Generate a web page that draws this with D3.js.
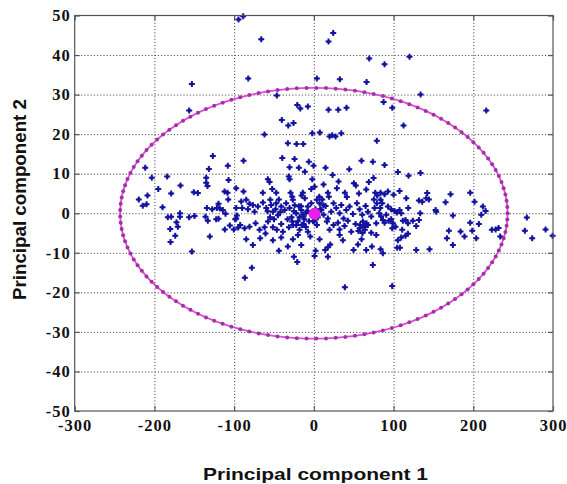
<!DOCTYPE html>
<html><head><meta charset="utf-8">
<script src="https://cdn.jsdelivr.net/npm/d3@7/dist/d3.min.js"></script>
<style>body{margin:0;background:#fff}svg{display:block}</style>
</head><body><svg id="c" width="567" height="484"></svg>
<script>
const xTicks=[-300,-200,-100,0,100,200,300];
const yTicks=[-50,-40,-30,-20,-10,0,10,20,30,40,50];
const xLabel="Principal component 1";
const yLabel="Principal component 2";
// principal component scores [PC1, PC2]
const scoresSparse=[[-94.5,49],[-88.6,49.8],[-66,44],[-82.3,34.1],[-46.4,29.8],[-20.8,27.4],[-17,26.5],[-7.5,27],[3.8,34.1],[18.4,43.4],[24.3,45.6],[32.6,33.9],[18.4,26.2],[30.6,26.2],[41,26.7],[69.5,39.1],[88.7,37.7],[66.1,33.2],[87.5,28.1],[98.4,26.7],[-40.2,23.6],[-32.1,22.2],[-25.5,22.8],[-61.9,19.9],[-2,20.2],[7.5,20.4],[19.7,19.4],[23,19.7],[27.2,19.4],[34.4,20.2],[-32.6,17.7],[-21.7,17.5],[-13.3,17.5],[79,18.3],[-153,32.7],[-156.4,26],[120,39.6],[133.9,30],[112.5,22.2],[216.3,26],[-25,-11],[-20.8,-12.3],[17.6,-11],[74,-13.1],[-77.8,-13.8],[-86.6,-16.3],[38.9,-18.7]];
const scoresLeft=[[-211.5,11.5],[-203.3,9],[-184,9.3],[-167.3,7],[-195.2,6.1],[-179,5],[-219.6,3.5],[-208.7,4.5],[-214.6,1.9],[-209.9,2.3],[-189.8,1.5],[-183.2,-1],[-179,-0.9],[-168,0],[-168,-0.9],[-156.4,-1],[-149.7,-0.7],[-150.6,5.3],[-145.5,5.1],[-172.3,-2.3],[-170.6,-3.4],[-180.2,-4],[-173.9,-5.7],[-179.8,-7.3],[-153,-9.7],
[-126.7,14.5],[-107.9,12],[-131.7,11.2],[-135,9],[-135,7.7],[-133.4,6.9],[-107,8.4],[-112,5.5],[-108.3,5.2],[-97.4,6.3],[-107.4,3.5],[-119.6,2.4],[-117.9,1.2],[-114.2,0.8],[-110.8,-0.1],[-97.4,1.3],[-97.4,-1.3],[-96.6,-0.6],[-98.6,-1.5],[-134.2,1.3],[-127.5,1],[-121.7,1.3],[-135.9,-0.9],[-133,-1.9],[-122.5,-1.5],[-119.6,-1.4],[-111.7,-4.1],[-105.4,-3.1],[-100.4,-4.1],[-94.9,-3.6],[-130.5,-5.9]];
const scoresCenter=[[-88.2,13.3],[-39.6,14],[-24.2,13.7],[-6.3,13],[-0.4,12],[-18.8,11.5],[-30.5,11.6],[14.7,11.5],[23.5,9.7],[44.4,11.1],[59.8,13.3],[74,13],[-11.3,10.5],[-57.7,8.6],[-55.6,7.9],[-31.4,9.3],[-30.5,8.6],[-2,8.6],[0.9,6.7],[-3.3,6.1],[12.2,7.3],[31,8],[28.9,6.3],[52.7,7],[50.2,7.6],[69,7.9],[65.7,6],[74.9,8.9],[77,5.2],[79.5,4.5],[-88.2,5.5],[-64,5.2],[-52.2,6.1],[-47.2,5.2],[-29.2,5.2],[-27.1,4.2],[-15.4,4.5],[-13.8,5.2],[-11.3,3.8],[6.8,4.2],[10.5,3.5],[17.6,5.2],[18.8,4.2],[38.9,5.2],[41.4,4.1],[56.5,5],[75.3,3.5],
[-91.1,2.95],[-84.8,3.4],[-80.7,2.4],[-76.5,2.1],[-89.9,1.3],[-82.7,1],[-74.4,0.4],[-70.2,1.7],[-63.9,2.7],[-59.7,1.3],[-54.7,3.4],[-53.5,2.1],[-51.4,0.4],[-47.2,2.5],[-43.9,3.5],[-40.9,1.7],[-36.7,0.8],[-34.7,2.5],[-30.5,1.3],[-26.3,3.4],[-22.1,0],[-18.8,1.8],[-15.8,0.8],[-12.9,-0.85],[-9.6,0.2],[-7.5,1.7],[-3.3,2.5],[3.8,3.4],[7.2,2.5],[9.3,0.8],[12.2,-0.4],[14.7,1.85],[17.6,-1.3],[21.8,0.4],[24.7,2.5],[28.1,1.3],[32.3,0],[34.4,2.1],[37.3,-1.3],[40.6,0.8],[44.8,1.7],[49,-0.2],[54,2.5],[57.4,1],[60.7,-0.4],[64.9,1.85],[67.8,0.4],[72,-0.85],[76.2,1.3],[79.1,2.5],[82,0],
[-92.4,-3],[-86.9,-3.8],[-80.7,-3.4],[-73.1,-2.5],[-68.1,-4.2],[-61.8,-3.55],[-57.6,-2.1],[-51.4,-3.55],[-46.4,-4.2],[-40.9,-2.7],[-38.8,-4.65],[-31.3,-3.55],[-27.1,-2.1],[-22.1,-3],[-17.9,-4.2],[-12.9,-2.7],[-7.5,-4.65],[0.9,-1.9],[3.8,-3],[16.4,-2.1],[19.7,-4.2],[24.7,-3],[30.2,-2.4],[32.3,-4.1],[38.5,-3.2],[42.7,-1.9],[46.9,-4.65],[52.3,-2.7],[57.4,-3.8],[61.5,-2.1],[64,-4.2],[67.8,-3],[72,-4.9],[78.3,-2.5],
[-84.8,-6.6],[-67.3,-6.3],[-60.6,-5.1],[-51.4,-6.8],[-40.9,-6.1],[-32.6,-8.4],[-26.3,-6.6],[-20,-5.5],[-15.8,-8],[-4.5,-5.9],[7.2,-6.6],[14.3,-9.3],[17.6,-8.6],[20.6,-7.9],[32.3,-5.5],[36.4,-6.8],[49.8,-9.3],[55.3,-7.9],[59.9,-6.6],[65.7,-9.3],[72.8,-8.4],[78.3,-5.5],[-76.5,-8],[-43.9,-9.5],[2.2,-9.5],[0.9,-10.8],
[-28,-1],[-25,0.5],[-20,-2],[-18,-1],[-15,-3],[-12,-1.5],[-10,-3.5],[-6,-2],[-26,-3],[-33,-1.5],[-24,2],[-4,0],[-16,1.8],[-14,-0.3],[-8,0.6],[-55,-1],[-50,-1.5],[-45,-0.5],[-48,1],[-42,0.3],[-58,0.5],[58,-3],[61,-5],[63,-3.5],[56,-4.5],[66,-2.5],[5,-1],[8,1],[12,2],[2,1],[-1,-2]];
const scoresRight=[[88.7,12.2],[105.4,10.4],[118.8,9.5],[133.8,10.2],[83.7,5.2],[88.7,4.8],[92.9,5.5],[100,4.7],[107.5,5.6],[83.7,3.4],[85.7,2.5],[83.2,1.3],[92.9,1.7],[97,1],[101.2,0.6],[104.1,0.2],[107.5,0.8],[109.6,0],[115.9,3.8],[131.8,3.2],[135.9,2.9],[141,3.8],[142.2,5.1],[144.3,3.5],[118.4,1.3],[133.4,0],[153.5,0.4],[152.7,0.8],[165.2,2.8],[171.5,4.8],[174.4,-0.6],[196.1,5.2],[201.6,2.9],[215.4,0.6],[212,1.7],[210,-0.4],[196.1,-2.4],[198.7,-4.4],[207,-2.7],[203.7,-6.3],[169.4,-4.4],[166.9,-6.3],[174.4,-8],[184,-4.6],[189,-5.9],[223.3,-4.2],[228,-4.1],[231.7,-3.7],[233.8,-5.9],[267.2,-1.1],[264.7,-4.4],[273.9,-6.3],[290.7,-4.1],[299.5,-5.7],[84.5,-0.85],[90.8,-0.4],[86.6,-1.7],[94.1,-1.9],[88.7,-2.4],[97,-1.5],[98.3,-3.8],[102.5,-3.4],[99.1,-2.5],[111.7,-1.9],[115,-1.7],[118,-2.5],[124.2,-1.9],[131.8,-1.7],[128.4,-3.2],[110.8,-4.2],[115,-5.7],[118,-5.2],[105.4,-6.8],[109.6,-6.1],[104.5,-8.7],[108,-8.7],[83.7,-9.1],[86.6,-10.1],[128.4,-9.3],[145.1,-9.1],[98.3,-18.4]];
const ellipseCenter=[0,0];
const ellipseRadii=[243,31.7];
const ellipseMarkerCount=125;
const meanPoint=[0.8,-0.1];

const scores=[...scoresSparse,...scoresLeft,...scoresCenter,...scoresRight];
const L=74.7,R=553,T=15.5,B=411;
const svg=d3.select('#c');
const x=d3.scaleLinear().domain([-300,300]).range([L,R]);
const y=d3.scaleLinear().domain([-50,50]).range([B,T]);

// grid
const gx=svg.append('g').attr('transform',`translate(0,${B})`)
  .call(d3.axisBottom(x).tickValues(xTicks.slice(1,-1)).tickSize(-(B-T)).tickFormat(''));
const gy=svg.append('g').attr('transform',`translate(${L},0)`)
  .call(d3.axisLeft(y).tickValues(yTicks.slice(1,-1)).tickSize(-(R-L)).tickFormat(''));
[gx,gy].forEach(g=>{g.select('.domain').remove();
  g.selectAll('line').attr('stroke','#333').attr('stroke-width',1).attr('stroke-dasharray','1,2.2');});

// points
const sym=d3.symbol().type(d3.symbolCross).size(20);
const pg=svg.append('g').selectAll('g').data(scores).join('g')
  .attr('transform',d=>`translate(${x(d[0])},${y(d[1])})`).attr('fill','#1414a0');
pg.append('path').attr('d',sym);
pg.append('circle').attr('r',1.7);

// ellipse
const th=d3.range(ellipseMarkerCount+1).map(i=>i/ellipseMarkerCount*2*Math.PI);
const ell=th.map(t=>[ellipseCenter[0]+ellipseRadii[0]*Math.cos(t),ellipseCenter[1]+ellipseRadii[1]*Math.sin(t)]);
svg.append('path').datum(ell).attr('d',d3.line().x(d=>x(d[0])).y(d=>y(d[1])))
  .attr('fill','none').attr('stroke','#dc4adc').attr('stroke-width',1.8);
svg.append('g').selectAll('circle').data(ell.slice(0,-1)).join('circle')
  .attr('cx',d=>x(d[0])).attr('cy',d=>y(d[1])).attr('r',2).attr('fill','#a033a0');

// mean
svg.append('circle').attr('cx',x(meanPoint[0])).attr('cy',y(meanPoint[1])).attr('r',6).attr('fill','#ea1eea');

// box
svg.append('rect').attr('x',L).attr('y',T).attr('width',R-L).attr('height',B-T)
  .attr('fill','none').attr('stroke','#555').attr('stroke-width',1.2);

// inward ticks
const tickG=[
  [d3.axisBottom(x).tickValues(xTicks),`translate(0,${B})`],
  [d3.axisTop(x).tickValues(xTicks),`translate(0,${T})`],
  [d3.axisLeft(y).tickValues(yTicks),`translate(${L},0)`],
  [d3.axisRight(y).tickValues(yTicks),`translate(${R},0)`]];
tickG.forEach(([ax,tr])=>{
  const g=svg.append('g').attr('transform',tr).call(ax.tickSize(-5).tickFormat(''));
  g.select('.domain').remove();
  g.selectAll('line').attr('stroke','#555').attr('stroke-width',1.2);
});

// tick labels
const fmt=d=>String(d);
const lx=svg.append('g').attr('transform',`translate(0,${B})`)
  .call(d3.axisBottom(x).tickValues(xTicks).tickSize(0).tickPadding(8).tickFormat(fmt));
const ly=svg.append('g').attr('transform',`translate(${L},0)`)
  .call(d3.axisLeft(y).tickValues(yTicks).tickSize(0).tickPadding(4).tickFormat(fmt));
[lx,ly].forEach(g=>{g.select('.domain').remove();
  g.selectAll('text').attr('fill','#111').style('font-family','"Liberation Serif","Times New Roman",serif')
   .style('font-weight','bold').style('font-size','16.5px').style('letter-spacing','1px');});

// axis titles
svg.append('text').attr('x',315.5).attr('y',479.5).attr('text-anchor','middle')
  .attr('textLength',225).attr('lengthAdjust','spacingAndGlyphs')
  .style('font-family','"Liberation Sans",Arial,sans-serif').style('font-weight','bold').style('font-size','16.5px')
  .attr('fill','#111').text(xLabel);
svg.append('text').attr('transform','translate(25.5,199.5) rotate(-90)').attr('text-anchor','middle')
  .attr('textLength',201).attr('lengthAdjust','spacingAndGlyphs')
  .style('font-family','"Liberation Sans",Arial,sans-serif').style('font-weight','bold').style('font-size','18.5px')
  .attr('fill','#111').text(yLabel);
</script></body></html>
